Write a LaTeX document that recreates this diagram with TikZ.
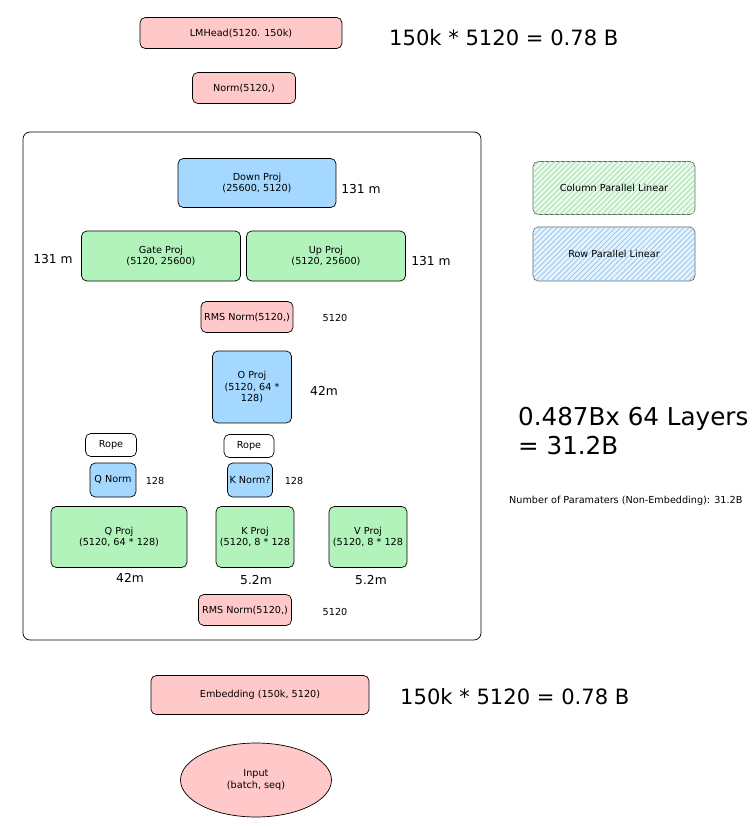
\documentclass[tikz,border=0pt]{standalone}
\usepackage{fontspec}
\setmainfont{DejaVu Sans}
\usetikzlibrary{shapes.geometric,patterns}
\definecolor{pinkfill}{HTML}{FFC9C9}
\definecolor{bluefill}{HTML}{A5D8FF}
\definecolor{greenfill}{HTML}{B2F2BB}
\begin{document}
\begin{tikzpicture}[x=0.02cm, y=-0.02cm, every node/.style={font=\fontsize{5.5}{6.5}\selectfont},
    box/.style={draw, rounded corners=3pt, align=center, inner sep=1pt},
    pinkbox/.style={box, fill=pinkfill},
    bluebox/.style={box, fill=bluefill},
    greenbox/.style={box, fill=greenfill},
    note/.style={font=\fontsize{7}{8}\selectfont},
    big/.style={font=\fontsize{12}{14}\selectfont}]
    \useasboundingbox (0,0) rectangle (756,827);

    % Head
    \node[pinkbox, minimum width=4.04cm, minimum height=0.62cm] (lmhead) at (241,33) {LMHead(5120. 150k)};
    \node[pinkbox, minimum width=2.06cm, minimum height=0.62cm] (norm) at (244,88) {Norm(5120,)};
    \node[big, anchor=west] (headcount) at (383,38) {150k * 5120 = 0.78 B};

    % Decoder layer
    \draw[rounded corners=4pt] (23,132) rectangle (481,640);
    \node[bluebox, minimum width=3.16cm, minimum height=0.98cm] (down) at (257,183) {Down Proj\\(25600, 5120)};
    \node[note] (downcount) at (361,189) {131 m};
    \node[greenbox, minimum width=3.18cm, minimum height=1cm] (gate) at (161,256) {Gate Proj\\(5120, 25600)};
    \node[greenbox, minimum width=3.18cm, minimum height=1cm] (up) at (326,256) {Up Proj\\(5120, 25600)};
    \node[note] (gatecount) at (53,259) {131 m};
    \node[note] (upcount) at (431,261) {131 m};
    \node[pinkbox, minimum width=1.84cm, minimum height=0.62cm] (rmsmlp) at (247,317) {RMS Norm(5120,)};
    \node (rmsmlpcount) at (335,318) {5120};
    \node[bluebox, minimum width=1.58cm, minimum height=1.44cm] (oproj) at (252,387) {O Proj\\(5120, 64 *\\128)};
    \node[note] (ocount) at (324,391) {42m};
    \node[box, minimum width=1.02cm, minimum height=0.46cm] (qrope) at (111,445) {Rope};
    \node[box, minimum width=1.0cm, minimum height=0.46cm] (krope) at (249,446) {Rope};
    \node[bluebox, minimum width=0.92cm, minimum height=0.68cm] (qnorm) at (113,480) {Q Norm};
    \node[bluebox, minimum width=0.9cm, minimum height=0.68cm] (knorm) at (250,480) {K Norm?};
    \node (qnormcount) at (155,481) {128};
    \node (knormcount) at (294,481) {128};
    \node[greenbox, minimum width=2.72cm, minimum height=1.22cm] (qproj) at (119,537) {Q Proj\\(5120, 64 * 128)};
    \node[greenbox, minimum width=1.56cm, minimum height=1.22cm] (kproj) at (255,537) {K Proj\\(5120, 8 * 128};
    \node[greenbox, minimum width=1.56cm, minimum height=1.22cm] (vproj) at (368,537) {V Proj\\(5120, 8 * 128};
    \node[note] (qcount) at (130,578) {42m};
    \node[note] (kcount) at (256,580) {5.2m};
    \node[note] (vcount) at (371,580) {5.2m};
    \node[pinkbox, minimum width=1.86cm, minimum height=0.62cm] (rmsattn) at (245,610) {RMS Norm(5120,)};
    \node (rmsattncount) at (335,612) {5120};

    % Legend
    \node[box, draw=black!60, fill=greenfill!30, minimum width=3.24cm, minimum height=1.06cm] (colleg) at (614,188) {};
    \fill[pattern=north east lines, pattern color=greenfill!90!black, rounded corners=3pt] (colleg.south west) rectangle (colleg.north east);
    \node at (colleg) {Column Parallel Linear};
    \node[box, draw=black!60, fill=bluefill!30, minimum width=3.24cm, minimum height=1.08cm] (rowleg) at (614,254) {};
    \fill[pattern=north east lines, pattern color=bluefill!90!black, rounded corners=3pt] (rowleg.south west) rectangle (rowleg.north east);
    \node at (rowleg) {Row Parallel Linear};

    % Totals
    \node[font=\fontsize{14}{17}\selectfont, anchor=west, align=left] (layers) at (512,431) {0.487Bx 64 Layers\\= 31.2B};
    \node[anchor=west] (params) at (503,501) {Number of Paramaters (Non-Embedding): 31.2B};

    % Input side
    \node[pinkbox, minimum width=4.36cm, minimum height=0.78cm] (embed) at (260,695) {Embedding (150k, 5120)};
    \node[big, anchor=west] (embedcount) at (394,697) {150k * 5120 = 0.78 B};
    \node[draw, ellipse, fill=pinkfill, minimum width=3.02cm, minimum height=1.48cm, align=center] (input) at (256,780) {Input\\(batch, seq)};
  \end{tikzpicture}
\end{document}
